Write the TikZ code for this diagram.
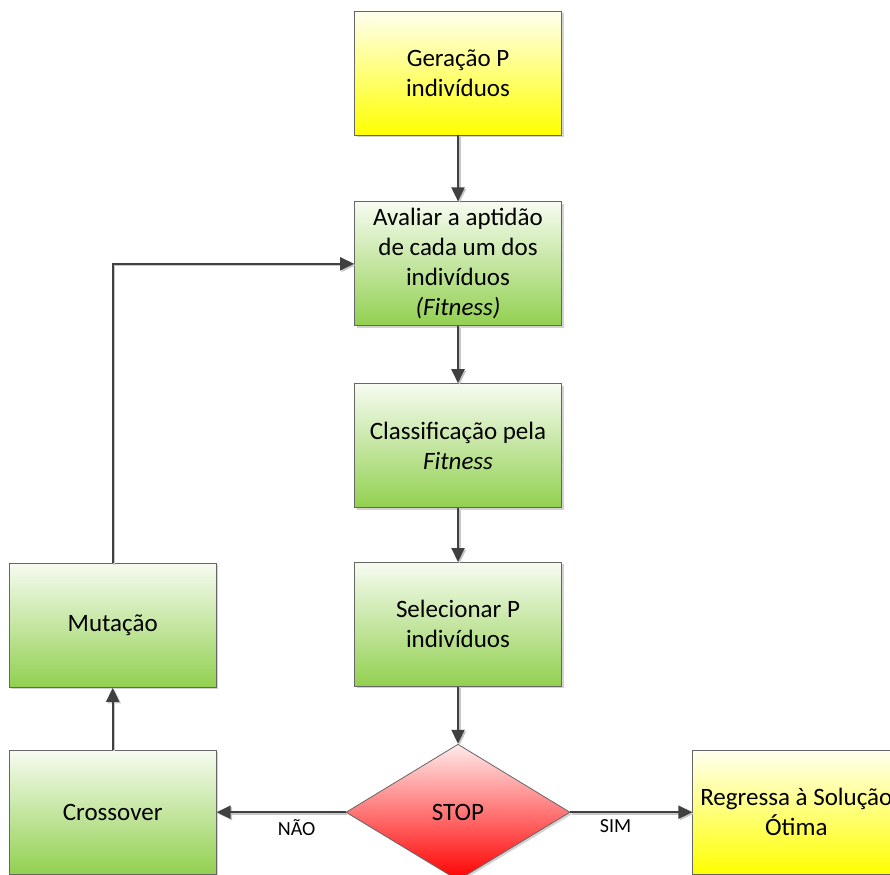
\documentclass[tikz,border=0pt]{standalone}
\usepackage{fontspec}
\setmainfont{Carlito}
\usetikzlibrary{shapes.geometric, arrows.meta, positioning, shadows}

\definecolor{leafgreen}{RGB}{146,208,80}
\definecolor{linegray}{RGB}{64,64,64}

\begin{document}
\begin{tikzpicture}[
    x=1pt, y=1pt,
    font=\fontsize{25}{30}\selectfont,
    box/.style={draw=black!60, line width=0.8pt, minimum width=207pt, minimum height=124pt, inner sep=1pt, align=center, drop shadow={shadow xshift=2pt, shadow yshift=-2pt, fill=black!35}},
    yellowbox/.style={box, top color=yellow!6, bottom color=yellow},
    greenbox/.style={box, top color=leafgreen!8, bottom color=leafgreen},
    decision/.style={diamond, draw=black!60, line width=0.8pt, minimum width=224pt, minimum height=136pt, inner sep=0pt, top color=red!8, bottom color=red, drop shadow={shadow xshift=2pt, shadow yshift=-2pt, fill=black!35}},
    flow/.style={draw=linegray, line width=2pt, -{Triangle[length=14pt, width=13pt]}, preaction={draw=black!22, line width=2pt, transform canvas={xshift=1.5pt, yshift=-1.5pt}}},
    answer/.style={font=\fontsize{20}{24}\selectfont, below=3pt}
]

    \useasboundingbox (0,0) rectangle (890,-874);

    % Main column
    \node[yellowbox] (gen) at (458,-73) {Geração P\\indivíduos};
    \node[greenbox, below=66pt of gen] (aval) {Avaliar a aptidão\\de cada um dos\\indivíduos\\\textit{(Fitness)}};
    \node[greenbox, below=57pt of aval] (class) {Classificação pela\\\textit{Fitness}};
    \node[greenbox, below=54pt of class] (sel) {Selecionar P\\indivíduos};
    \node[decision, below=57pt of sel] (stop) {STOP};

    % Side branches
    \node[greenbox, left=129pt of stop] (cross) {Crossover};
    \node[greenbox, above=62pt of cross] (mut) {Mutação};
    \node[yellowbox, right=122pt of stop] (sol) {Regressa à Solução\\Ótima};

    % Connections
    \draw[flow] (gen) -- (aval);
    \draw[flow] (aval) -- (class);
    \draw[flow] (class) -- (sel);
    \draw[flow] (sel) -- (stop);
    \draw[flow] (stop.west) -- node[answer, pos=0.38] {NÃO} (cross.east);
    \draw[flow] (stop.east) -- node[answer, pos=0.37] {SIM} (sol.west);
    \draw[flow] (cross) -- (mut);
    \draw[flow] (mut.north) |- (aval.west);

\end{tikzpicture}
\end{document}
